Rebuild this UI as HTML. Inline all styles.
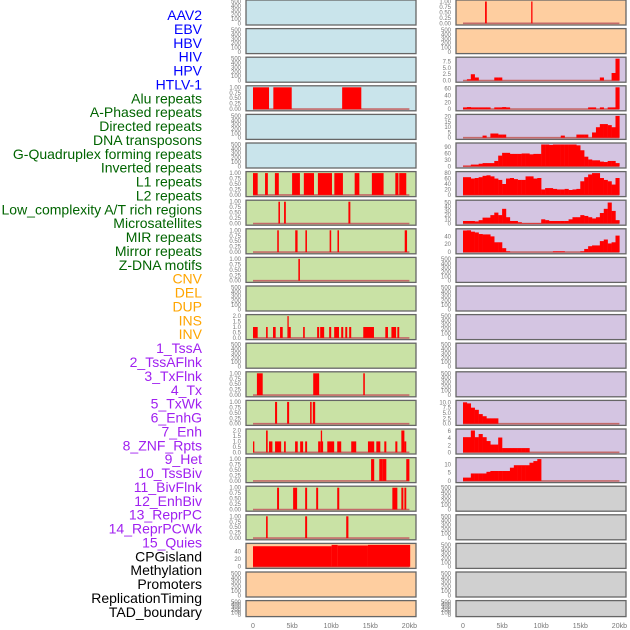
<!DOCTYPE html>
<html><head><meta charset="utf-8">
<style>
body{margin:0;background:#fff;}
svg{display:block;font-family:"Liberation Sans",sans-serif;}
</style></head>
<body>
<svg id="chart" width="630" height="630" viewBox="0 0 630 630"></svg>
<script>
// ---- labels ----
const labelNames=["AAV2","EBV","HBV","HIV","HPV","HTLV-1","Alu repeats","A-Phased repeats","Directed repeats","DNA transposons","G-Quadruplex forming repeats","Inverted repeats","L1 repeats","L2 repeats","Low_complexity A/T rich regions","Microsatellites","MIR repeats","Mirror repeats","Z-DNA motifs","CNV","DEL","DUP","INS","INV","1_TssA","2_TssAFlnk","3_TxFlnk","4_Tx","5_TxWk","6_EnhG","7_Enh","8_ZNF_Rpts","9_Het","10_TssBiv","11_BivFlnk","12_EnhBiv","13_ReprPC","14_ReprPCWk","15_Quies","CPGisland","Methylation","Promoters","ReplicationTiming","TAD_boundary"];
const labelGroupSizes=[6,13,5,15,5];
const labelGroupColors=["#0000ff","#006400","#ffa500","#a020f0","#000000"];

// ---- panel backgrounds ----
const leftBg=["#c9e4eb","#c9e4eb","#c9e4eb","#c9e4eb","#c9e4eb","#c9e4eb","#c9e2a5","#c9e2a5","#c9e2a5","#c9e2a5","#c9e2a5","#c9e2a5","#c9e2a5","#c9e2a5","#c9e2a5","#c9e2a5","#c9e2a5","#c9e2a5","#c9e2a5","#fecea0","#fecea0","#fecea0"];
const rightBg=["#fecea0","#fecea0","#d4c5e2","#d4c5e2","#d4c5e2","#d4c5e2","#d4c5e2","#d4c5e2","#d4c5e2","#d4c5e2","#d4c5e2","#d4c5e2","#d4c5e2","#d4c5e2","#d4c5e2","#d4c5e2","#d4c5e2","#d0d0d0","#d0d0d0","#d0d0d0","#d0d0d0","#d0d0d0"];

// ---- left interval tracks: [startKb, endKb, value] ----
const L3=[[0,2.05,1],[2.6,4.95,1],[11.4,13.85,1]];
const L6=[[0,0.6,1],[1.54,1.9,1],[2.8,3.3,1],[5,6,1],[6.5,7.8,1],[8.3,10.1,1],[10.4,11.5,1],[13,13.6,1],[15.2,16.7,1],[18.2,18.6,1],[18.7,19.6,1]];
const L7=[[3.25,3.45,1],[3.97,4.2,1],[12.2,12.45,1]];
const L8=[[3.1,3.3,1],[5.4,5.7,1],[6.7,6.9,1],[9.8,10,1],[10.8,11,1],[19.4,19.7,1]];
const L9=[[5.8,6.0,1]];
const L11=[[0,0.6,1],[1.67,1.88,1],[2.56,2.9,1],[3.46,3.8,1],[4.4,4.55,2],[4.55,4.83,1],[6.41,6.62,1],[8.2,8.46,1],[8.59,9.1,1],[9.74,10,1],[10.38,11,1],[11.28,11.54,1],[11.8,12.05,1],[12.3,12.56,1],[14.1,15.47,1],[16.92,17.26,1],[17.7,18.3,1],[18.46,18.7,1]];
const L13=[[0.5,1.24,1],[7.7,8.46,1],[14.1,14.3,1]];
const L14=[[2.82,3.08,1],[4.36,4.62,1],[7.3,7.5,1],[7.65,7.95,1]];
const L15=[[0,0.17,1],[1.67,1.88,2],[2.05,2.48,1],[2.82,3.6,1],[3.97,4.19,1],[5.38,5.72,1],[6.03,6.41,1],[6.67,6.92,1],[8.33,8.67,1],[8.67,8.8,2],[8.8,8.93,1],[9.5,10.38,1],[10.77,11.28,1],[12.56,13.2,1],[14.7,15.5,1],[15.77,16.28,1],[16.79,17.05,1],[18.2,18.46,1],[18.97,19.36,2],[19.36,19.6,1]];
const L16=[[15.1,15.5,1],[16.15,16.54,1],[16.54,17.05,1],[19.6,20,1]];
const L17=[[3.08,3.33,1],[5.13,5.64,1],[6.67,6.92,1],[8.08,8.33,1],[10.77,11.03,1],[17.82,18.46,1],[18.97,19.23,1],[19.36,19.6,1]];
const L18=[[1.67,1.88,1],[6.67,6.92,1],[11.92,12.2,1]];
const L19=[[0,10.05,54],[10.05,10.82,59],[10.82,14.7,56],[14.7,20.1,59]];
const R0=[[2.82,3.04,1],[8.72,8.88,1]];

// ---- right profile tracks: 40 bins of 0.5kb ----
const R2=[0,0.5,2.5,1.2,0,0,0,0,1.2,1.2,0,0,0,0,0,0,0,0,0,0,0,0,0,0,0,0,0,0,0,0,0,0,0,0,0,1.2,0,0,3,9];
const R3=[5,6,5,5,5,5,5,0,5,5,6,5,0,0,0,0,0,0,0,0,0,0,0,0,0,0,0,0,0,0,0,0,5,5,0,5,0,5,5,68];
const R4=[0,0,0,0,0,2,0,4,4,3,3,0,0,0,0,0,0,0,0,0,0,0,0,0,0,2,0,0,0,3,3,3,0,5,10,13,13,12,10,22];
const R5=[3,3,8,8,12,15,15,15,25,50,63,63,58,58,58,60,60,56,58,58,105,103,100,108,108,110,108,108,105,98,75,45,32,28,28,22,20,25,25,15];
const R6=[65,65,60,62,65,70,72,68,60,55,40,60,62,58,55,55,68,68,60,62,20,25,25,22,20,20,22,18,20,22,50,65,75,80,80,62,55,50,38,62];
const R7=[6,6,6,5,8,14,14,20,26,20,35,15,6,6,3,1,1,1,1,1,10,8,6,6,6,6,6,10,15,15,20,18,15,12,15,25,35,50,30,8];
const R8=[55,58,52,50,46,45,45,40,25,25,10,2,0,0,0,0,0,0,0,0,0,0,0,2,2,2,0,0,0,0,2,8,15,17,17,28,32,22,25,42];
const R14=[10,9.5,7.5,6.5,4.5,3.5,2.5,2.5,2.5,0,0,0,0,0,0,0,0,0,0,0,0,0,0,0,0,0,0,0,0,0,0,0,0,0,0,0,0,0,0,0];
const R15=[4.3,4.3,6.2,4.3,5.2,4.3,3.2,2.2,2.2,4.2,1.2,1.2,1.2,1.2,1.2,1.2,1.2,0,0,0,0,0,0,0,0,0,0,0,0,0,0,0,0,0,0,0,0,0,0,0];
const R16=[2,2,4.5,4.5,4.5,4.5,5.5,6,6,6,6,6,8,9.5,9.5,9.5,9.5,11,12,13.5,0,0,0,0,0,0,0,0,0,0,0,0,0,0,0,0,0,0,0,0];

// ---- tick label sets ----
const ticksEmpty=["0","100","200","300","400","500"];
const ticksUnit=["0.00","0.25","0.50","0.75","1.00"];
const ticksTwo=["0.0","0.5","1.0","1.5","2.0"];
const xTickKb=[0,5,10,15,20];
const xTickText=["0","5kb","10kb","15kb","20kb"];

const NS="http://www.w3.org/2000/svg";
const svg=document.getElementById('chart');
function mk(tag,attrs,parent){const e=document.createElementNS(NS,tag);for(const k in attrs)e.setAttribute(k,attrs[k]);(parent||svg).appendChild(e);return e;}

// labels
let li=0;
labelGroupSizes.forEach((n,g)=>{for(let j=0;j<n;j++){const t=mk('text',{x:202,y:15+li*13.88+5,'text-anchor':'end','font-size':'14',fill:labelGroupColors[g]});


t.textContent=labelNames[li];li++;}});

function rowTop(i){return i*28.6;}
function rowH(i){return i===21?16:25;}
const cols=[{x0:246,x1:416,zero:253},{x0:456,x1:626,zero:463}];
const KB=7.82;

// left row specs: [data, ymax, ticksLabels, tickValues]
const leftSpec={3:[L3,1,'u'],6:[L6,1,'u'],7:[L7,1,'u'],8:[L8,1,'u'],9:[L9,1,'u'],11:[L11,2,'t'],13:[L13,1,'u'],14:[L14,1,'u'],15:[L15,2,'t'],16:[L16,1,'u'],17:[L17,1,'u'],18:[L18,1,'u'],19:[L19,57.5,[0,20,40]]};
const rightSpec={0:[R0,1,'u'],2:[R2,8.7,[0,2.5,5,7.5]],3:[R3,64,[0,20,40,60]],4:[R4,20.8,[0,5,10,15,20]],5:[R5,102,[0,30,60,90]],6:[R6,80,[0,20,40,60,80]],7:[R7,52,[0,10,20,30,40,50]],8:[R8,55.5,[0,20,40]],14:[R14,10.2,[0,2.5,5,7.5,10]],15:[R15,6.2,[0,2,4,6]],16:[R16,13.2,[0,5,10]]};

function fmt(v,arr){const dec=arr.some(a=>a%1!==0);return dec?v.toFixed(1):String(v);}

for(let c=0;c<2;c++){
 const col=cols[c];const bgs=c===0?leftBg:rightBg;const spec=c===0?leftSpec:rightSpec;
 for(let i=0;i<22;i++){
  const top=rowTop(i),h=rowH(i);
  const bottom=top+h-1.7, ytop=top+1.5;
  const g=mk('g',{});
  
  
  mk('rect',{x:col.x0,y:top,width:col.x1-col.x0,height:h,fill:bgs[i],stroke:'#666',"stroke-width":1.3},g);
  const sp=spec[i];
  const tx=col.x0-5;
  if(!sp){
   ticksEmpty.forEach((t,k)=>{const yy=bottom-k*(bottom-ytop)/5;
    const tt=mk('text',{x:tx,y:yy+2,'text-anchor':'end','font-size':'6',fill:'#777'},g);
    tt.textContent=t;});
   continue;
  }
  const data=sp[0],ymax=sp[1];
  const yS=v=>bottom-Math.min(v,ymax)/ymax*(bottom-ytop);
  const xS=kb=>col.zero+kb*KB;
  let tv,tl;
  if(sp[2]==='u'){tv=[0,0.25,0.5,0.75,1];tl=ticksUnit;}
  else if(sp[2]==='t'){tv=[0,0.5,1,1.5,2];tl=ticksTwo;}
  else{tv=sp[2];tl=tv.map(v=>fmt(v,tv));}
  tv.forEach((v,k)=>{const tt=mk('text',{x:tx,y:yS(v)+2,'text-anchor':'end','font-size':'6',fill:'#777'},g);
   tt.textContent=tl[k];});
  // baseline
  const bl=mk('line',{x1:xS(0),x2:xS(20),y1:bottom,y2:bottom,stroke:'#c46a6a','stroke-width':1.6},g);
  
  if(typeof data[0]==='number'){
   data.forEach((v,k)=>{if(v<=0)return;
    const r=mk('rect',{x:xS(k*0.5),y:yS(v),width:0.5*KB+0.2,height:bottom-yS(v),fill:'#ff0000'},g);
    });
  } else {
   data.forEach(d=>{const w=Math.max((d[1]-d[0])*KB,1.3);
    const r=mk('rect',{x:xS(d[0]),y:yS(d[2]),width:w,height:bottom-yS(d[2]),fill:'#ff0000'},g);
    });
  }
 }
 xTickKb.forEach((kb,k)=>{const t=mk('text',{x:col.zero+kb*KB,y:628,'text-anchor':'middle','font-size':'7',fill:'#777'});
  t.textContent=xTickText[k];});
}
</script>
</body></html>
